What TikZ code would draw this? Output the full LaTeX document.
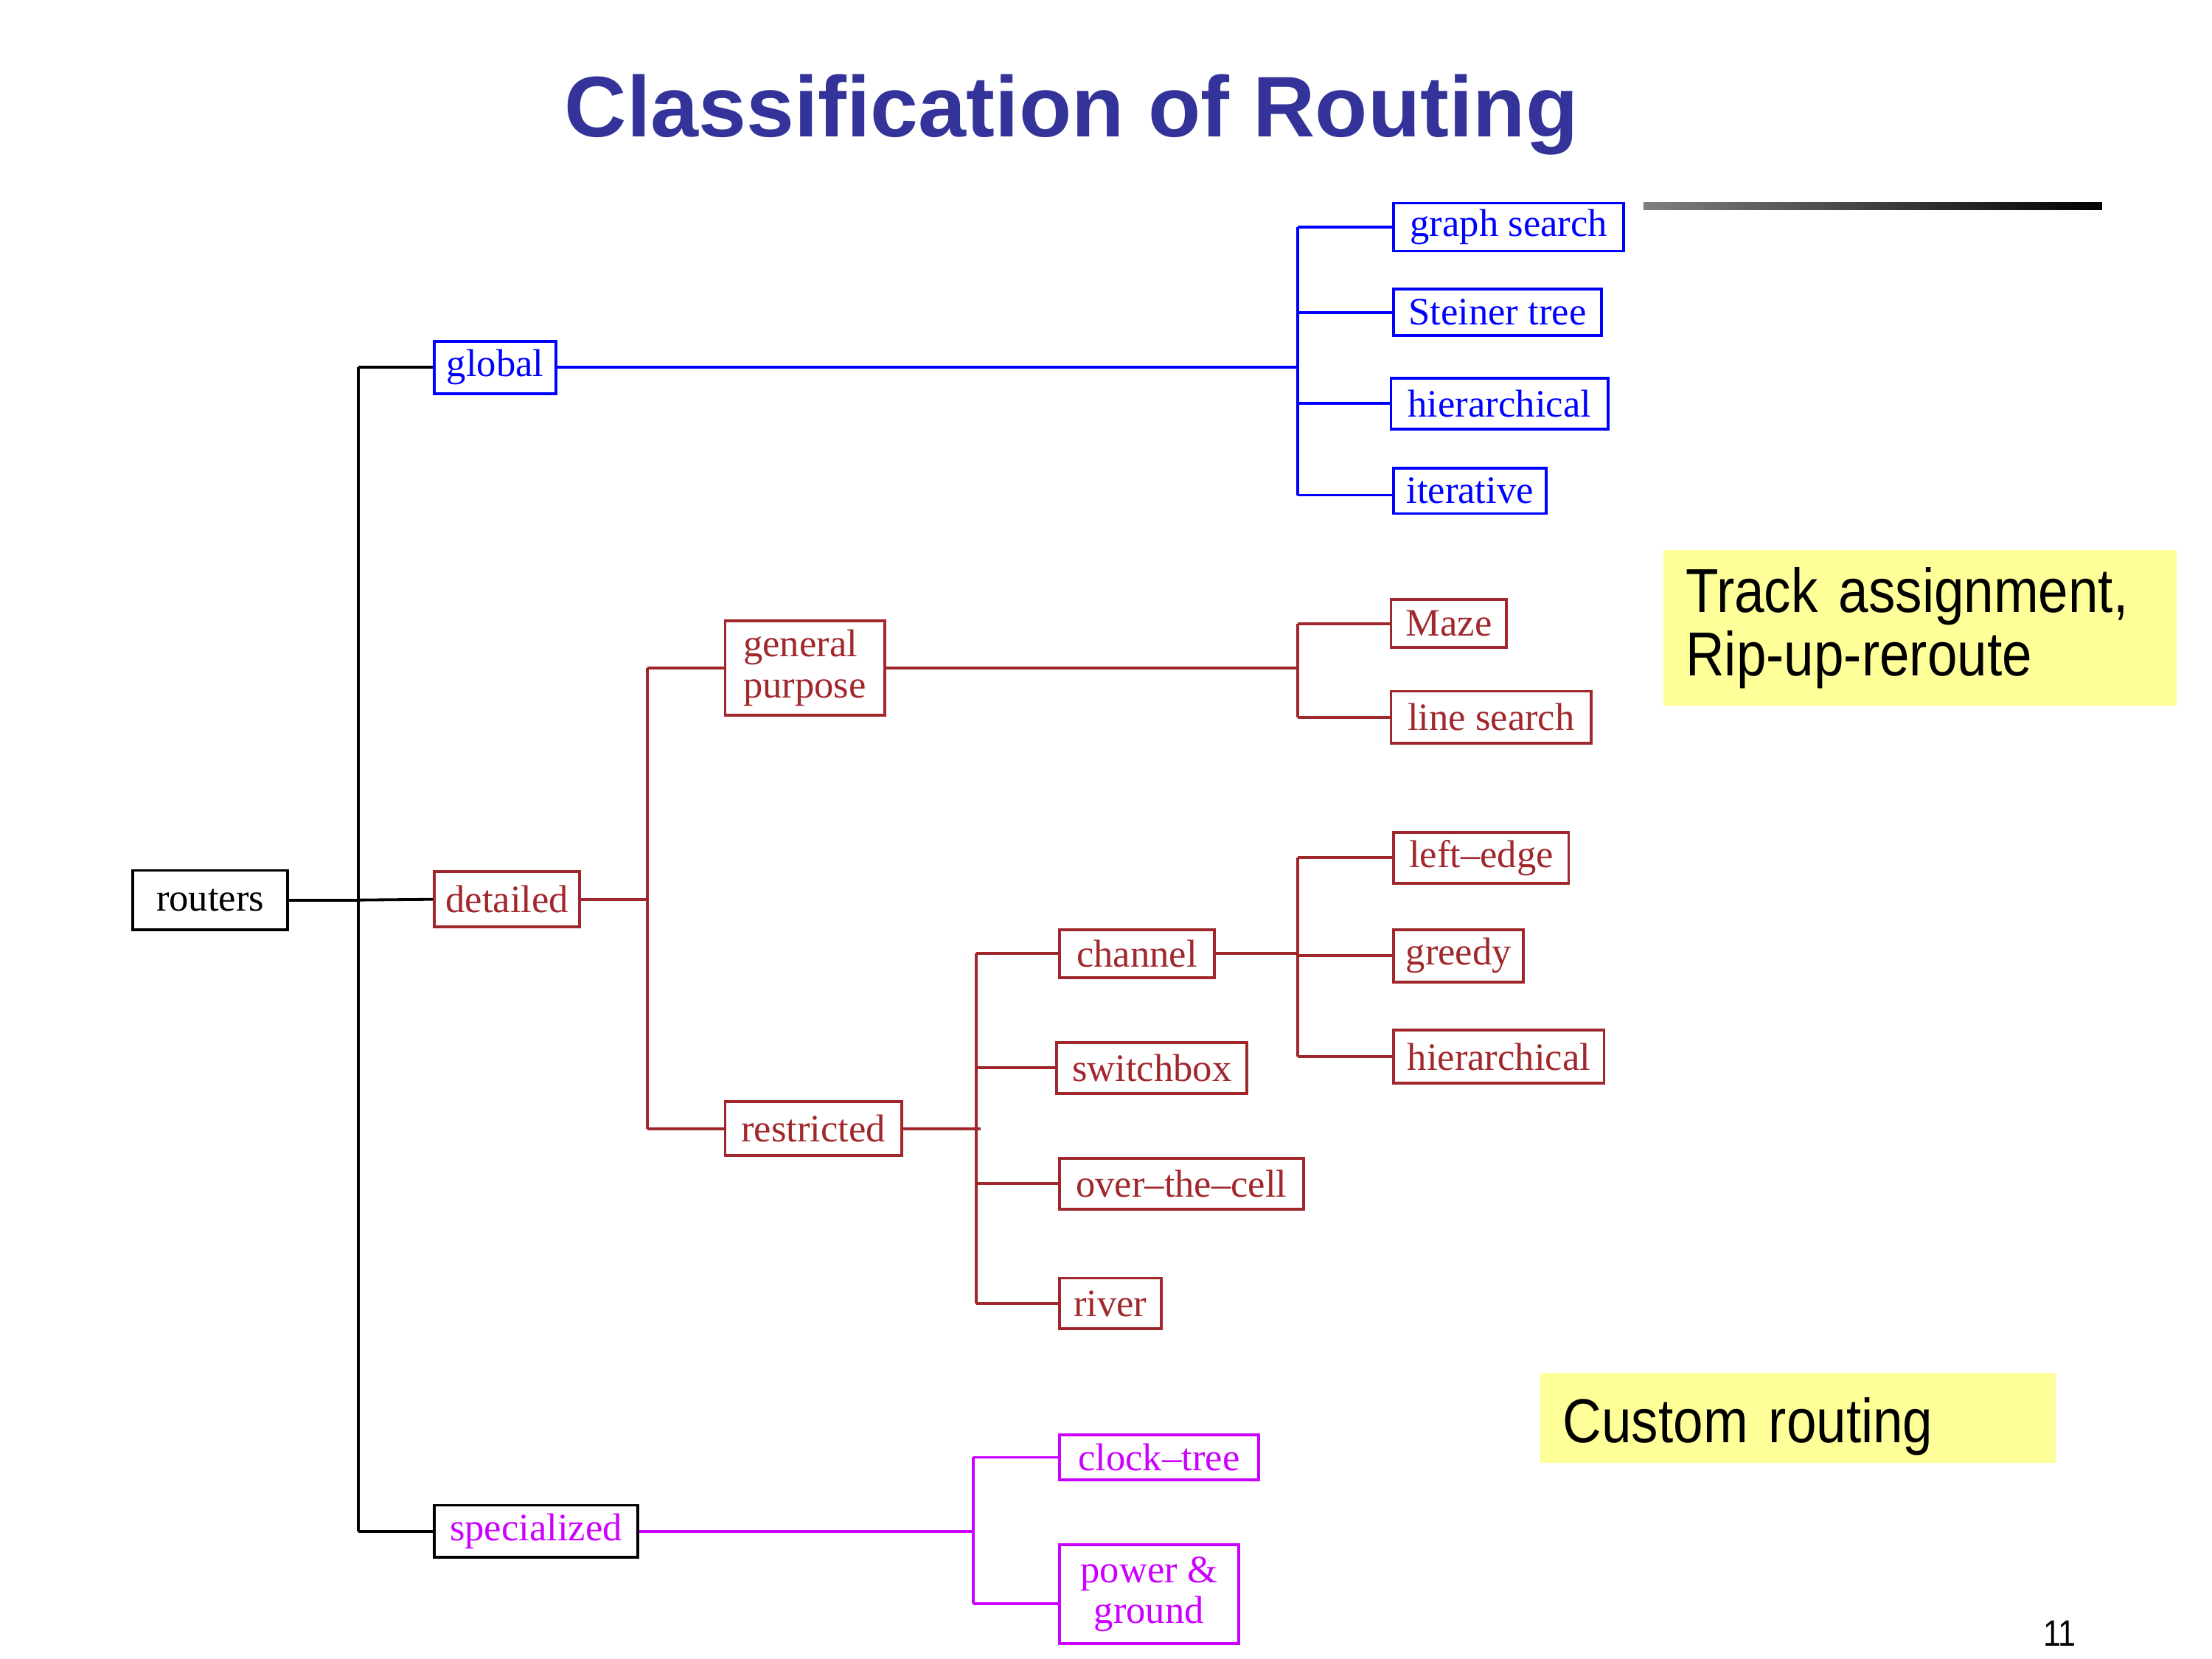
\documentclass[tikz,border=0pt]{standalone}
\usepackage{fontspec}
\setmainfont{Liberation Serif}
\newfontfamily\titlefont{Liberation Sans}
\newfontfamily\notefont[FakeStretch=0.865]{Liberation Sans}
\definecolor{titleblue}{HTML}{333399}
\definecolor{rbrown}{HTML}{A0282D}
\definecolor{rmag}{HTML}{CC00FF}
\definecolor{rblue}{HTML}{0000FF}
\definecolor{noteyel}{HTML}{FFFF99}
\begin{document}
\begin{tikzpicture}[x=0.5pt,y=-0.5pt,
  rbox/.style={draw, line width=1pt, inner sep=0pt, font=\fontsize{13.75}{14.5}\selectfont},
  bl/.style={rbox, draw=rblue, text=rblue},
  br/.style={rbox, draw=rbrown, text=rbrown},
  mg/.style={rbox, draw=rmag, text=rmag},
  lk/.style={line width=1pt},
  note/.style={fill=noteyel, inner sep=0pt, font=\notefont\fontsize{22}{22.5}\selectfont, align=left}]
\useasboundingbox (0,0) rectangle (1568,1176);
% title
\node[anchor=base, text=titleblue, font=\titlefont\bfseries\fontsize{30.5}{34}\selectfont] (title) at (759.5,97) {Classification of Routing};
\shade[left color=gray, right color=black] (1165,143.5) rectangle (1490,148.5);
% nodes
\node[rbox, minimum width=55pt, minimum height=21pt] (routers) at (149,638) {routers};
\node[bl, minimum width=43pt, minimum height=18.5pt] (global) at (351,260.5) {global};
\node[br, minimum width=51.5pt, minimum height=19.5pt] (detailed) at (359.5,637.5) {detailed};
\node[rbox, text=rmag, minimum width=72pt, minimum height=18.5pt] (spec) at (380,1085.5) {specialized};
\node[br, minimum width=56.5pt, minimum height=33.5pt, align=left] (gp) at (570.5,473.5) {general\\purpose};
\node[br, minimum width=62.5pt, minimum height=19pt] (restr) at (576.5,800) {restricted};
\node[bl, minimum width=81.5pt, minimum height=17pt] (graph) at (1069.5,161) {graph search};
\node[bl, minimum width=73.5pt, minimum height=16.5pt] (steiner) at (1061.5,221.5) {Steiner tree};
\node[bl, minimum width=77pt, minimum height=18pt] (hierg) at (1063,286) {hierarchical};
\node[bl, minimum width=54pt, minimum height=16pt] (iter) at (1042,348) {iterative};
\node[br, minimum width=41pt, minimum height=17pt] (maze) at (1027,442) {Maze};
\node[br, minimum width=71pt, minimum height=18.5pt] (lines) at (1057,508.5) {line search};
\node[br, minimum width=62pt, minimum height=18pt] (ledge) at (1050,608) {left–edge};
\node[br, minimum width=46pt, minimum height=18.5pt] (greedy) at (1034,677.5) {greedy};
\node[br, minimum width=74.5pt, minimum height=19pt] (hierc) at (1062.5,749) {hierarchical};
\node[br, minimum width=55pt, minimum height=17pt] (chan) at (806,676) {channel};
\node[br, minimum width=67.5pt, minimum height=18pt] (swb) at (816.5,757) {switchbox};
\node[br, minimum width=86.5pt, minimum height=18pt] (otc) at (837.5,839) {over–the–cell};
\node[br, minimum width=36pt, minimum height=18pt] (river) at (787,924) {river};
\node[mg, minimum width=70.5pt, minimum height=16pt] (clock) at (821.5,1033) {clock–tree};
\node[mg, minimum width=63.5pt, minimum height=35pt, align=center] (pg) at (814.5,1130) {power \&\\ground};
% junction coordinates
\coordinate (j0) at (254,638);
\coordinate (jg) at (920,261);
\coordinate (jd) at (459,638);
\coordinate (jgp) at (920,474);
\coordinate (jr) at (692,800);
\coordinate (jc) at (920,677);
\coordinate (js) at (690,1087);
% black
\draw[lk] (routers.east) -- (j0);
\draw[lk] (j0 |- global.west) -- (j0 |- spec.west);
\draw[lk] (j0 |- global.west) -- (global.west);
\draw[lk] (j0) -- (detailed.west);
\draw[lk] (j0 |- spec.west) -- (spec.west);
% blue
\draw[lk, rblue] (global.east) -- (jg |- global.east);
\draw[lk, rblue] (jg |- graph.west) -- ([yshift=-1.5pt]jg |- iter.west);
\foreach \n in {graph,steiner,hierg} \draw[lk, rblue] (jg |- \n.west) -- (\n.west);
\draw[lk, rblue] ([yshift=-1.5pt]jg |- iter.west) -- ([yshift=-1.5pt]iter.west);
% brown
\draw[lk, rbrown] (detailed.east) -- (jd |- detailed.east);
\draw[lk, rbrown] (jd |- gp.west) -- (jd |- restr.west);
\draw[lk, rbrown] (jd |- gp.west) -- (gp.west);
\draw[lk, rbrown] (jd |- restr.west) -- (restr.west);
\draw[lk, rbrown] (gp.east) -- (jgp |- gp.east);
\draw[lk, rbrown] (jgp |- maze.west) -- (jgp |- lines.west);
\draw[lk, rbrown] (jgp |- maze.west) -- (maze.west);
\draw[lk, rbrown] (jgp |- lines.west) -- (lines.west);
\draw[lk, rbrown] (restr.east) -- ([xshift=1.5pt]jr |- restr.east);
\draw[lk, rbrown] (jr |- chan.west) -- (jr |- river.west);
\foreach \n in {chan,swb,otc,river} \draw[lk, rbrown] (jr |- \n.west) -- (\n.west);
\draw[lk, rbrown] (chan.east) -- (jc |- chan.east);
\draw[lk, rbrown] (jc |- ledge.west) -- (jc |- hierc.west);
\foreach \n in {ledge,greedy,hierc} \draw[lk, rbrown] (jc |- \n.west) -- (\n.west);
% magenta
\draw[lk, rmag] (spec.east) -- (js |- spec.east);
\draw[lk, rmag] (js |- clock.west) -- ([yshift=-3.5pt]js |- pg.west);
\draw[lk, rmag] (js |- clock.west) -- (clock.west);
\draw[lk, rmag] ([yshift=-3.5pt]js |- pg.west) -- ([yshift=-3.5pt]pg.west);
% notes
\node[note, minimum width=182pt, minimum height=55pt, text width=166pt] (track) at (1361,445) {Track assignment,\\Rip-up-reroute};
\node[note, minimum width=182.5pt, minimum height=32pt, text width=166.5pt] (custom) at (1274.5,1005) {\raisebox{-3pt}[\height][\depth]{Custom routing}};
\node[anchor=base, font=\notefont\fontsize{13}{14}\selectfont] (pnum) at (1460,1167) {11};
\end{tikzpicture}
\end{document}
